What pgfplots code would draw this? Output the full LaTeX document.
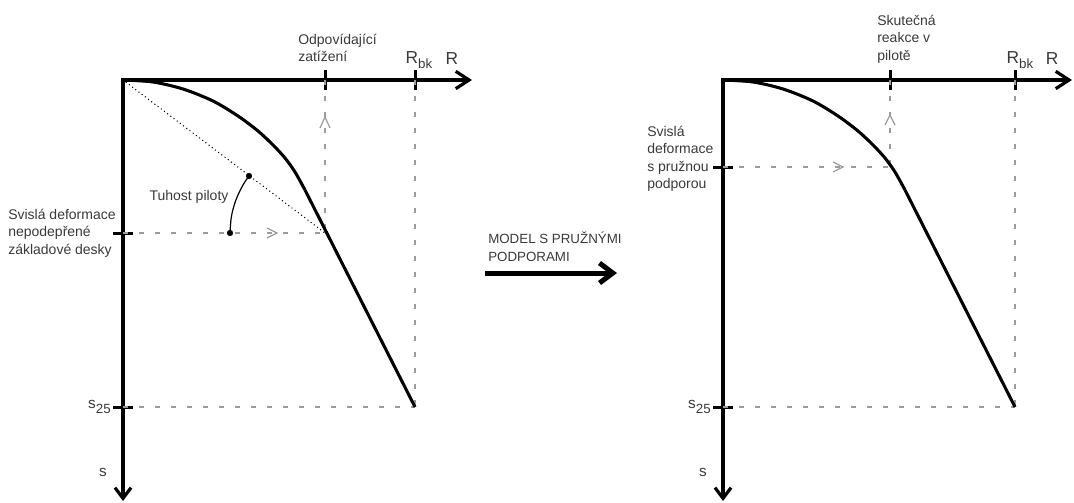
\documentclass[border=0pt]{standalone}
\usepackage{pgfplots}
\pgfplotsset{compat=1.18}
\usepackage{fontspec}
\setmainfont{Liberation Sans}
\usetikzlibrary{arrows.meta}

\definecolor{txt}{HTML}{3A3A3A}
\definecolor{guidegray}{HTML}{9C9C9C}

% load-settlement curve of the pile (R offset, settlement s), drawing units
\pgfplotstableread{
R s
0 0
30 2
60 9
90 21
115 36
135 51
150 65
162 78
172 92
182 110
}\curvetop
\pgfplotstableread{
R s
182 110
292 327
}\curvelin

\tikzset{
  chev/.style={guidegray, line width=0.9pt, solid},
  lbl/.style={text=txt, font=\fontsize{10.5}{13.1}\selectfont},
  lblblock/.style={lbl, anchor=west, align=left, inner sep=0},
}
\pgfplotsset{
  panel/.style={
    x=0.75pt, y=0.75pt, y dir=reverse,
    xmin=0, xmax=349, ymin=0, ymax=421,
    axis lines*=middle,
    axis line style={line width=2.4pt, black, line cap=rect},
    x axis line style={-{Straight Barb[length=10pt,width=13pt]}},
    y axis line style={-{Straight Barb[length=8pt,width=12pt]}},
    major tick length=15pt, tick align=center,
    tick style={line width=2.25pt, black},
    xticklabels={}, yticklabels={},
    clip=false, anchor=origin,
  },
  guide/.style={guidegray, line width=0.9pt, dash pattern=on 3.75pt off 8.25pt},
  pilecurve/.style={black, line width=2.3pt, line join=round},
}

\newcommand{\Rbk}{{\fontsize{13}{13}\selectfont R}\raisebox{-0.6ex}{\fontsize{10}{10}\selectfont bk}}
\newcommand{\sdf}{{\fontsize{11.5}{11.5}\selectfont s}\raisebox{-0.6ex}{\fontsize{10}{10}\selectfont 25}}

\begin{document}
\begin{tikzpicture}
\useasboundingbox (-92.25pt,60pt) rectangle (713.25pt,-317.25pt);

% ---------- left panel: unsupported foundation slab ----------
\begin{axis}[panel, at={(0pt,0pt)}, xtick={202,292}, ytick={153,327}]
  \addplot[guide] coordinates {(0,153) (202,153)};
  \addplot[guide] coordinates {(202,0) (202,153)};
  \addplot[guide] coordinates {(292,0) (292,327)};
  \addplot[guide] coordinates {(0,327) (292,327)};
  \draw[chev] (axis cs:144,148) -- (axis cs:154,153) -- (axis cs:144,158);
  \draw[chev] (axis cs:197,48) -- (axis cs:202,37) -- (axis cs:207,48);
  % secant stiffness
  \addplot[black, line width=1.1pt, line cap=round, dash pattern=on 0pt off 3pt]
    coordinates {(0,0) (202,153)};
  \addplot[black, line width=0.9pt, smooth]
    coordinates {(107,153) (108.4,136.5) (112.7,120.5) (119.7,105.5) (126,96)};
  \addplot[only marks, mark=*, mark size=2.1pt, black]
    coordinates {(107,153) (126,96)};
  \addplot[pilecurve, smooth] table[x=R, y=s] {\curvetop};
  \addplot[pilecurve] table[x=R, y=s] {\curvelin};

  \node[lblblock] at (axis cs:-115,153)
    {Svislá deformace\\nepodepřené\\základové desky};
  \node[lbl] at (axis cs:66,117) {Tuhost piloty};
  \node[lblblock] at (axis cs:175,-32) {Odpovídající\\zatížení};
  \node[lbl] at (axis cs:296,-20) {\Rbk};
  \node[lbl] at (axis cs:329,-21) {\fontsize{13}{13}\selectfont R};
  \node[lbl, anchor=east, inner sep=0] at (axis cs:-12,327) {\sdf};
  \node[lbl] at (axis cs:-20,392) {\fontsize{11.5}{11.5}\selectfont s};

  % transition to the spring-support model
  \node[lblblock, font=\fontsize{10}{13.1}\selectfont]
    at (axis cs:365,166.5) {MODEL S PRUŽNÝMI\\PODPORAMI};
  \draw[black, line width=3.75pt, -{Straight Barb[length=10pt,width=15pt]}]
    (axis cs:362,193) -- (axis cs:494,193);
\end{axis}

% ---------- right panel: slab on elastic supports ----------
\begin{axis}[panel, at={(450pt,0pt)}, xtick={167,292}, ytick={87,327}]
  \addplot[guide] coordinates {(0,87) (167,87)};
  \addplot[guide] coordinates {(167,0) (167,87)};
  \addplot[guide] coordinates {(292,0) (292,327)};
  \addplot[guide] coordinates {(0,327) (292,327)};
  \draw[chev] (axis cs:110,82) -- (axis cs:120,87) -- (axis cs:110,92);
  \draw[chev] (axis cs:162,45) -- (axis cs:167,35) -- (axis cs:172,45);
  \addplot[pilecurve, smooth] table[x=R, y=s] {\curvetop};
  \addplot[pilecurve] table[x=R, y=s] {\curvelin};

  \node[lblblock] at (axis cs:-76,79) {Svislá\\deformace\\s pružnou\\podporou};
  \node[lblblock] at (axis cs:154,-41) {Skutečná\\reakce v\\pilotě};
  \node[lbl] at (axis cs:297,-20) {\Rbk};
  \node[lbl] at (axis cs:329,-21) {\fontsize{13}{13}\selectfont R};
  \node[lbl, anchor=east, inner sep=0] at (axis cs:-12,327) {\sdf};
  \node[lbl] at (axis cs:-20,392) {\fontsize{11.5}{11.5}\selectfont s};
\end{axis}
\end{tikzpicture}
\end{document}
